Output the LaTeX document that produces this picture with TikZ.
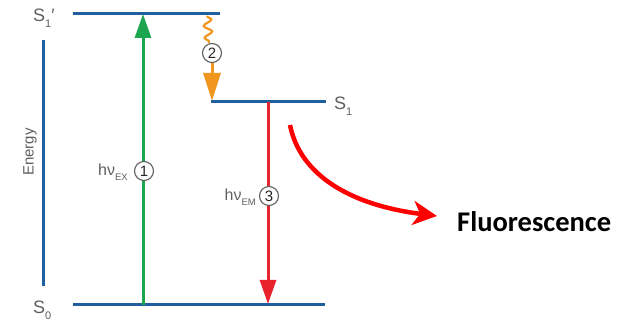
\documentclass[tikz,border=0pt]{standalone}
\usepackage{fontspec}
\setmainfont{Liberation Sans}
\newfontfamily\calib{Carlito}
\usetikzlibrary{arrows.meta,decorations.pathmorphing}
\definecolor{lvlblue}{RGB}{31,95,160}
\definecolor{exgreen}{RGB}{30,165,80}
\definecolor{vrorange}{RGB}{240,150,30}
\definecolor{emred}{RGB}{232,35,45}
\definecolor{txtgray}{RGB}{95,95,95}
\newcommand{\lsub}[1]{\raisebox{-0.28em}{\fontsize{11}{11}\selectfont #1}}
\newcommand{\hsub}[1]{\raisebox{-0.3em}{\fontsize{9.5}{9.5}\selectfont #1}}
\tikzset{
  level/.style={draw=lvlblue, line width=3pt},
  lbl/.style={text=txtgray, font=\fontsize{18}{18}\selectfont, inner sep=0pt},
  hlbl/.style={text=txtgray, font=\fontsize{16}{16}\selectfont, inner sep=0pt},
  circnum/.style={circle, draw=txtgray, fill=white, line width=1.1pt, minimum size=19pt, inner sep=0pt, text=black!85, font=\fontsize{15}{15}\selectfont},
  bigtip/.style={-{Triangle[length=24pt,width=16pt]}},
}
\begin{document}
\begin{tikzpicture}[x=1pt,y=-1pt]
\useasboundingbox (0,0) rectangle (627,320);
% levels
\coordinate (s1pL) at (73,14);
\coordinate (s1pR) at (220,14);
\coordinate (s1L) at (211,102);
\coordinate (s1R) at (326,102);
\coordinate (s0L) at (73,305);
\coordinate (s0R) at (325,305);
\draw[level] (s1pL) -- (s1pR);
\draw[level] (s1L) -- (s1R);
\draw[level] (s0L) -- (s0R);
% energy axis
\coordinate (eT) at (43,40);
\coordinate (eB) at (43,286);
\draw[level] (eT) -- (eB);
\node[text=txtgray, font=\fontsize{15}{15}\selectfont, inner sep=0pt, rotate=90] (energy) at (30,152) {Energy};
% labels
\node[lbl, anchor=base west] (s1plab) at (33,22) {S\lsub{1}′};
\node[lbl, anchor=base west] (s1lab) at (334,110) {S\lsub{1}};
\node[lbl, anchor=base west] (s0lab) at (33,314) {S\lsub{0}};
% excitation
\coordinate (exB) at (143,305);
\coordinate (exT) at (143,14);
\draw[exgreen, line width=3pt, bigtip] (exB) -- (exT);
\node[circnum] (c1) at (144,171) {1};
\node[hlbl, anchor=base east] (hvex) at (128,176) {hν\hsub{EX}};
% vibrational relaxation
\coordinate (w0) at (207,16);
\coordinate (w1) at (209,43);
\draw[vrorange, line width=2.2pt, decorate, decoration={snake, amplitude=4pt, segment length=12pt}] (w0) -- (w1);
\node[circnum] (c2) at (212,53) {2};
\coordinate (o2) at (212,101);
\draw[vrorange, line width=3pt, -{Triangle[length=28pt,width=17pt]}] (c2.south) -- (o2);
% emission
\coordinate (emT) at (268,102);
\coordinate (emB) at (268,304);
\draw[emred, line width=3pt, bigtip] (emT) -- (emB);
\node[circnum] (c3) at (269,196) {3};
\node[hlbl, anchor=base east] (hvem) at (256,201) {hν\hsub{EM}};
% fluorescence
\coordinate (fs) at (290,125);
\node[font=\calib\bfseries\fontsize{28.5}{28.5}\selectfont, anchor=base west, inner sep=0pt] (fluo) at (457,232) {Fluorescence};
\draw[red, line width=4.5pt, -{Stealth[length=24pt,width=24pt,inset=7pt]}] (fs) .. controls (300,175) and (350,205) .. (437,216);
\end{tikzpicture}
\end{document}
